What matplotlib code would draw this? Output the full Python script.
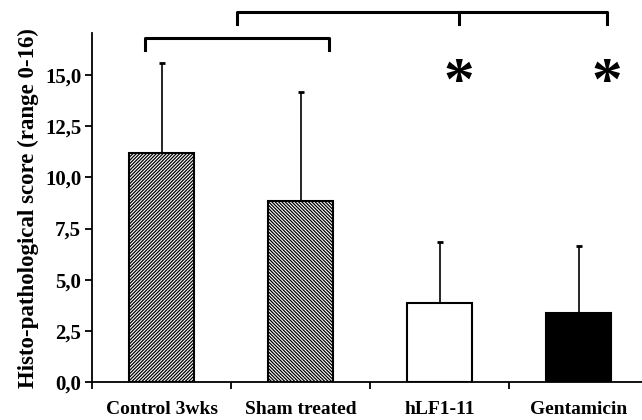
import matplotlib

matplotlib.use('Agg')
import matplotlib.pyplot as plt

groups = ['Control 3wks', 'Sham treated', 'hLF1-11', 'Gentamicin']
means = [11.2, 8.85, 3.88, 3.38]
sd_up = [4.35, 5.3, 2.97, 3.26]
y_ticks = [0.0, 2.5, 5.0, 7.5, 10.0, 12.5, 15.0]
y_tick_labels = ['0,0', '2,5', '5,0', '7,5', '10,0', '12,5', '15,0']
star_groups = [2.14, 3.2]


def main():
    plt.rcParams['font.family'] = ['Liberation Serif', 'DejaVu Serif']
    plt.rcParams['font.weight'] = 'bold'
    plt.rcParams['hatch.linewidth'] = 0.9

    fig = plt.figure(figsize=(6.42, 4.2), dpi=100)
    ax = fig.add_axes([0.1438, 0.0893, 0.8562, 0.8321])

    x = list(range(len(groups)))
    fills = ['white', 'white', 'white', 'black']
    hatches = ['//////////', '\\\\\\\\\\\\\\\\\\\\', None, None]
    for i in x:
        ax.bar(i, means[i], width=0.467, color=fills[i], edgecolor='black',
               linewidth=1.5, hatch=hatches[i], zorder=2)
    ax.errorbar(x, means, yerr=[[0] * len(x), sd_up], fmt='none', ecolor='black',
                elinewidth=1.2, capsize=2.5, capthick=2.0, zorder=1)

    ax.set_xlim(-0.5, 3.455)
    ax.set_ylim(0, 17.03)
    ax.spines['top'].set_visible(False)
    ax.spines['right'].set_visible(False)
    ax.spines['left'].set_linewidth(1.3)
    ax.spines['bottom'].set_linewidth(1.3)

    ax.set_yticks(y_ticks)
    ax.set_yticklabels(y_tick_labels, fontsize=15, fontweight='bold')
    ax.set_xticks([-0.5, 0.5, 1.5, 2.5])
    ax.set_xticklabels([])
    ax.set_xticks(x, minor=True)
    ax.set_xticklabels(groups, minor=True, fontsize=14, fontweight='bold')
    ax.tick_params(axis='x', which='minor', length=0, pad=13)
    ax.tick_params(axis='both', which='major', direction='out', length=5, width=1.3)
    ax.tick_params(axis='y', pad=3)

    ax.set_ylabel('Histo-pathological score (range 0-16)', fontsize=16.5,
                  fontweight='bold', labelpad=4)

    # significance brackets
    ax.plot([-0.12, -0.12, 1.205, 1.205], [16.2, 16.8, 16.8, 16.2],
            color='black', lw=2.2, clip_on=False)
    ax.plot([0.54, 0.54, 3.2, 3.2], [17.45, 18.05, 18.05, 17.45],
            color='black', lw=2.2, clip_on=False)
    ax.plot([2.14, 2.14], [18.05, 17.45], color='black', lw=2.2, clip_on=False)
    for sx in star_groups:
        ax.text(sx, 13.83, '*', fontsize=44, ha='center', va='baseline',
                fontweight='bold')

    fig.savefig('out.png', dpi=100)


if __name__ == "__main__":
    main()
